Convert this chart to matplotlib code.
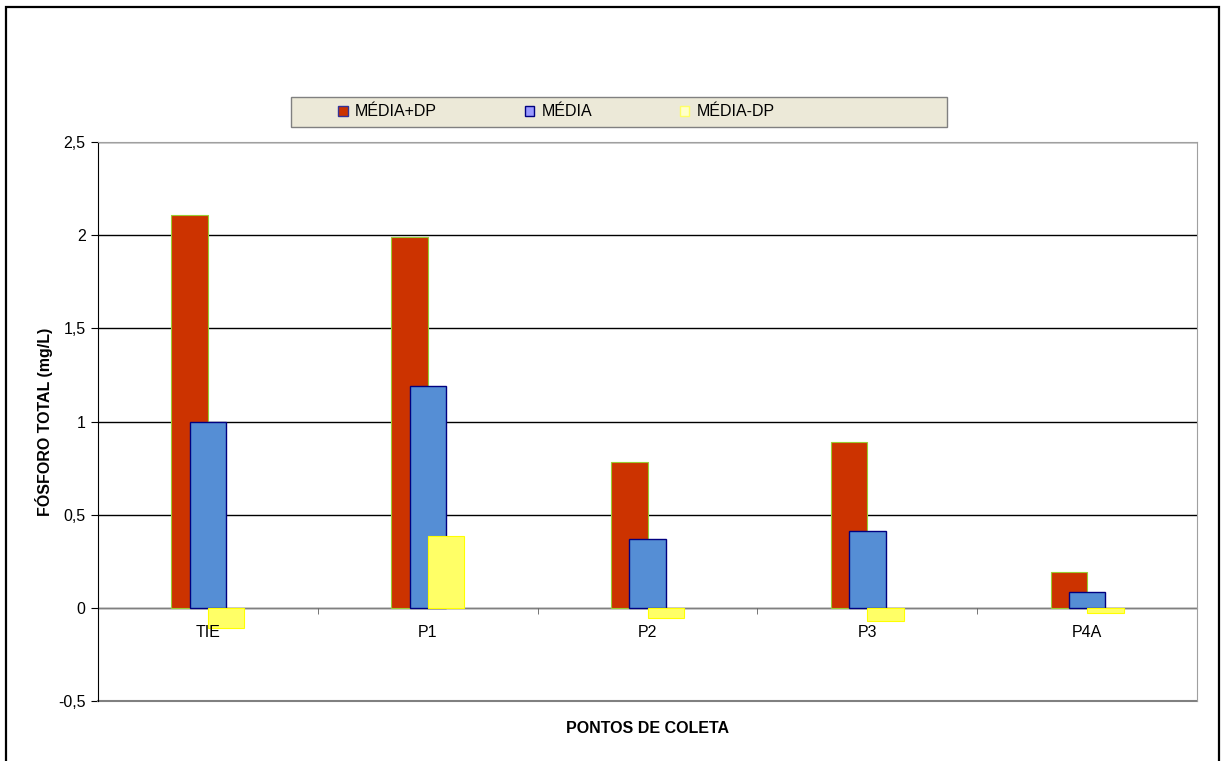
import matplotlib
matplotlib.use("Agg")
import matplotlib.pyplot as plt
from matplotlib.patches import Rectangle, Patch
from matplotlib.ticker import FuncFormatter, MultipleLocator
import numpy as np

plt.rcParams['font.family'] = ['Liberation Sans', 'DejaVu Sans']

pontos = ['TIE', 'P1', 'P2', 'P3', 'P4A']
media_mais_dp = [2.11, 1.99, 0.785, 0.89, 0.19]
media = [1.0, 1.19, 0.37, 0.415, 0.085]
media_menos_dp = [-0.11, 0.385, -0.055, -0.068, -0.025]

FS = 11.5

fig = plt.figure(figsize=(12.27, 7.61), dpi=100)
ax = fig.add_axes([0.0799, 0.0788, 0.8957, 0.7346])

x = np.arange(len(pontos))
w = 0.166
ax.bar(x - w / 2, media_mais_dp, w, color='#CC3300', edgecolor='#99CC33',
       linewidth=0.8, zorder=3, label='MÉDIA+DP')
ax.bar(x, media, w, color='#558ED5', edgecolor='#000080',
       linewidth=1.0, zorder=4, label='MÉDIA')
ax.bar(x + w / 2, media_menos_dp, w, color='#FFFF66', edgecolor='#FFFF00',
       linewidth=0.8, zorder=5, label='MÉDIA-DP')

ax.set_xlim(-0.5, len(pontos) - 0.5)
ax.set_ylim(-0.5, 2.5)
ax.yaxis.set_major_locator(MultipleLocator(0.5))
ax.yaxis.set_major_formatter(FuncFormatter(lambda v, p: ('%g' % v).replace('.', ',')))
ax.grid(axis='y', color='black', linewidth=1.0, zorder=1)
ax.set_axisbelow(True)

# eixo x passa pelo zero, com marcas entre os pontos
ax.spines['bottom'].set_position(('data', 0))
ax.spines['bottom'].set_color('#808080')
ax.spines['bottom'].set_zorder(2)
ax.spines['left'].set_color('black')
ax.spines['right'].set_color('#A0A0A0')
ax.spines['top'].set_color('#A0A0A0')
ax.axhline(-0.5, color='#808080', linewidth=1.5, zorder=2, clip_on=False)

ax.set_xticks(x)
ax.set_xticklabels(pontos)
ax.set_xticks(np.arange(0.5, len(pontos) - 1, 1.0), minor=True)
ax.tick_params(axis='x', which='major', length=0, pad=12, labelsize=FS)
ax.tick_params(axis='x', which='minor', length=4, direction='out', color='#606060')
ax.tick_params(axis='y', length=5, direction='out', labelsize=FS, pad=4)
ax.xaxis.set_zorder(6)

ax.set_ylabel('FÓSFORO TOTAL (mg/L)', fontsize=FS, fontweight='bold', labelpad=3.5)
fig.text(0.528, 0.043, 'PONTOS DE COLETA', fontsize=FS, fontweight='bold',
         ha='center', va='center')

# caixa da legenda
fig.add_artist(Rectangle((291 / 1227, 1 - 127 / 761), 656 / 1227, 30 / 761,
                         transform=fig.transFigure, facecolor='#ECE9D8',
                         edgecolor='#808080', linewidth=1.0))
handles = [Patch(facecolor='#CC3300', edgecolor='#333399'),
           Patch(facecolor='#9999FF', edgecolor='#000080'),
           Patch(facecolor='#FFFFCC', edgecolor='#FFFF66')]
fig.legend(handles, ['MÉDIA+DP', 'MÉDIA', 'MÉDIA-DP'], ncol=3, frameon=False,
           loc='center left', bbox_to_anchor=(338 / 1227, 1 - 112 / 761),
           handlelength=0.6, handleheight=0.6, handletextpad=0.45,
           columnspacing=5.5, fontsize=FS, borderpad=0, borderaxespad=0)

# moldura externa
fig.add_artist(Rectangle((6 / 1227, -0.05), 1213 / 1227, 1.05 - 7 / 761,
                         transform=fig.transFigure, fill=False,
                         edgecolor='black', linewidth=1.6))

fig.savefig('out.png', dpi=100)
